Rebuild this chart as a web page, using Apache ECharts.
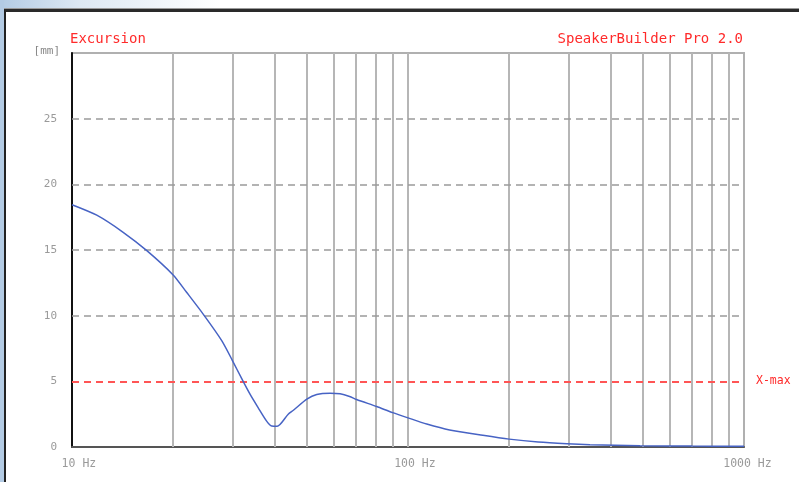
<!DOCTYPE html>
<html>
<head>
<meta charset="utf-8">
<script src="https://cdn.jsdelivr.net/npm/echarts@6/dist/echarts.min.js"></script>
<style>
  html, body { margin: 0; padding: 0; background: #ffffff; }
  #wrap { position: relative; width: 799px; height: 482px; overflow: hidden; background: #ffffff; }
  #topband { position: absolute; left: 0; top: 0; width: 799px; height: 8px;
    background: linear-gradient(to right, #b3cbe4 0px, #dde8f3 80px, #ffffff 220px); }
  #leftband { position: absolute; left: 0; top: 0; width: 4px; height: 482px; background: #b3cbe4; }
  #frame { position: absolute; left: 4px; top: 8px; width: 795px; height: 474px;
    border-top: 1px solid #9a9a9a; box-sizing: border-box; }
  #frame2 { position: absolute; left: 4px; top: 9px; width: 795px; height: 473px;
    border-left: 2px solid #222; border-top: 3px solid #2a2a2a; box-sizing: border-box; background: #fff; }
  #chart { position: absolute; left: 0; top: 0; width: 799px; height: 482px; }
</style>
</head>
<body>
<div id="wrap">
  <div id="topband"></div>
  <div id="leftband"></div>
  <div id="frame"></div>
  <div id="frame2"></div>
  <div id="chart"></div>
</div>
<script>
// Frequency (Hz) and cone excursion (mm)
const freqHz = [10, 11.85, 14.2, 16.7, 20, 21.9, 24.6, 27.9, 30, 32, 33.9, 35.8, 38, 39.3, 40.8, 44, 45.6, 50, 53.5, 58.6, 62.8, 67, 70.3, 80.7, 90, 100, 113.7, 133, 167, 200, 244, 297, 348, 490, 700, 1000];
const excursionMm = [18.45, 17.65, 16.35, 14.95, 13.1, 11.8, 10.1, 8.1, 6.6, 5.2, 4.0, 3.0, 1.95, 1.6, 1.58, 2.5, 2.8, 3.64, 4.0, 4.1, 4.05, 3.85, 3.62, 3.08, 2.62, 2.22, 1.75, 1.3, 0.89, 0.6, 0.38, 0.25, 0.18, 0.1, 0.07, 0.05];

// Grid positions (data values)
const vGridHz = [20, 30, 40, 50, 60, 70, 80, 90, 100, 200, 300, 400, 500, 600, 700, 800, 900];
const hGridMm = [10, 15, 20, 25];
const xMaxMm = 5;

const titleLeft = 'Excursion';
const titleRight = 'SpeakerBuilder Pro 2.0';
const yUnit = '[mm]';
const xUnit = 'Hz';
const xMaxLabel = 'X-max';

const mono = "'DejaVu Sans Mono', 'Liberation Mono', monospace";

const chart = echarts.init(document.getElementById('chart'), null, { renderer: 'canvas' });

const vLines = vGridHz.map(v => ({ xAxis: v }));
const hLines = hGridMm.map(v => ({ yAxis: v }));

chart.setOption({
  animation: false,
  backgroundColor: 'transparent',
  title: [
    { text: titleLeft, left: 65, top: 27, textStyle: { fontFamily: mono, fontSize: 14, fontWeight: 'normal', color: '#ff2a2a' } },
    { text: titleRight, right: 51, top: 27, textStyle: { fontFamily: mono, fontSize: 14, fontWeight: 'normal', color: '#ff2a2a' } }
  ],
  grid: {
    left: 72, right: 55, top: 53, bottom: 35,
    show: true, borderColor: '#b0b0b0', borderWidth: 2, backgroundColor: 'transparent'
  },
  xAxis: {
    type: 'log', logBase: 10, min: 10, max: 1000,
    axisLine: { show: true, onZero: false, lineStyle: { color: '#555555', width: 2 } },
    axisTick: { show: false },
    splitLine: { show: false },
    minorTick: { show: false },
    axisLabel: {
      margin: 11,
      fontFamily: mono, fontSize: 11.5, color: '#9a9a9a',
      formatter: v => (v >= 1000 ? ' ' : '  ') + v + ' ' + xUnit
    }
  },
  yAxis: {
    type: 'value', min: 0, max: 30, interval: 5,
    name: yUnit, nameLocation: 'end', nameGap: 2,
    nameTextStyle: { fontFamily: mono, fontSize: 11, color: '#888888', align: 'right', verticalAlign: 'middle', padding: [0, 12, 0, 0] },
    axisLine: { show: true, lineStyle: { color: '#111111', width: 2 } },
    axisTick: { show: false },
    splitLine: { show: false },
    axisLabel: {
      margin: 15, showMaxLabel: false,
      fontFamily: mono, fontSize: 11, color: '#9a9a9a',
      padding: [0, 0, 8, 0]
    }
  },
  series: [
    {
      type: 'line', name: 'grid-v', data: [], silent: true,
      markLine: {
        silent: true, symbol: 'none', animation: false,
        lineStyle: { type: 'solid', color: '#b6b6b6', width: 2 },
        label: { show: false },
        data: vLines
      }
    },
    {
      type: 'line', name: 'grid-h', data: [], silent: true,
      markLine: {
        silent: true, symbol: 'none', animation: false,
        lineStyle: { type: [7, 5], color: '#9a9a9a', width: 1.6 },
        label: { show: false },
        data: hLines
      }
    },
    {
      type: 'line', name: 'xmax', data: [], silent: true,
      markLine: {
        silent: true, symbol: 'none', animation: false,
        lineStyle: { type: [7, 5], color: '#ff5555', width: 2 },
        label: { show: true, position: 'end', distance: 12, formatter: xMaxLabel, fontFamily: mono, fontSize: 11.5, color: '#ff2a2a' },
        data: [{ yAxis: xMaxMm }]
      }
    },
    {
      type: 'line', name: 'Excursion',
      data: freqHz.map((f, i) => [f, excursionMm[i]]),
      showSymbol: false, smooth: 0.25,
      lineStyle: { color: '#4763c4', width: 1.5 },
      z: 5
    }
  ]
});
</script>
</body>
</html>
